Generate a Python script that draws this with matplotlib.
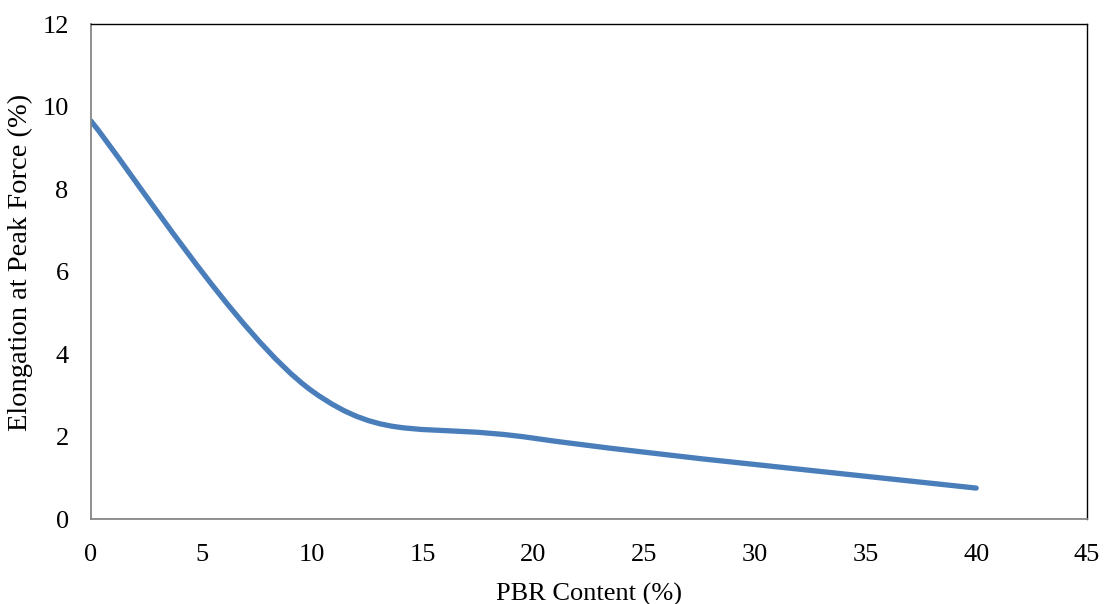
import numpy as np
import matplotlib
matplotlib.use("Agg")
import matplotlib.pyplot as plt
from matplotlib.path import Path
from matplotlib.patches import PathPatch

pbr_content = [0, 10, 20, 40]
elongation = [9.65, 3.1, 1.96, 0.75]
x_ticks = [0, 5, 10, 15, 20, 25, 30, 35, 40, 45]
y_ticks = [0, 2, 4, 6, 8, 10, 12]

plt.rcParams['font.family'] = ['Liberation Serif', 'DejaVu Serif']

fig = plt.figure(figsize=(11.09, 6.04), dpi=100)
ax = fig.add_axes([0.082, 0.1407, 0.898, 0.8195])

# Excel-style smoothed line (cubic Bezier segments)
pts = np.column_stack([pbr_content, elongation]).astype(float)
n = len(pts)
verts = [tuple(pts[0])]
codes = [Path.MOVETO]
for i in range(n - 1):
    p_prev = pts[i - 1] if i > 0 else pts[i]
    p0 = pts[i]
    p1 = pts[i + 1]
    p_next = pts[i + 2] if i + 2 < n else pts[i + 1]
    c1 = p0 + (p1 - p_prev) / 6.0
    c2 = p1 - (p_next - p0) / 6.0
    verts += [tuple(c1), tuple(c2), tuple(p1)]
    codes += [Path.CURVE4] * 3
patch = PathPatch(Path(verts, codes), facecolor='none', edgecolor='#4a7ebb',
                  lw=3.8, capstyle='round', joinstyle='round')
ax.add_patch(patch)

ax.set_xlim(0, 45)
ax.set_ylim(0, 12)
ax.set_xticks(x_ticks)
ax.set_yticks(y_ticks)
ax.tick_params(length=0, labelsize=19)
ax.tick_params(axis='x', pad=18)
ax.tick_params(axis='y', pad=16)
ax.set_xlabel('PBR Content (%)', fontsize=19, labelpad=12)
ax.set_ylabel('Elongation at Peak Force (%)', fontsize=20.5)
ax.yaxis.set_label_coords(-0.058, 0.519)

for s in ['left', 'bottom']:
    ax.spines[s].set_color('#868686')
    ax.spines[s].set_linewidth(1.3)
for s in ['top', 'right']:
    ax.spines[s].set_color('black')
    ax.spines[s].set_linewidth(1.0)

fig.savefig('out.png', dpi=100)
